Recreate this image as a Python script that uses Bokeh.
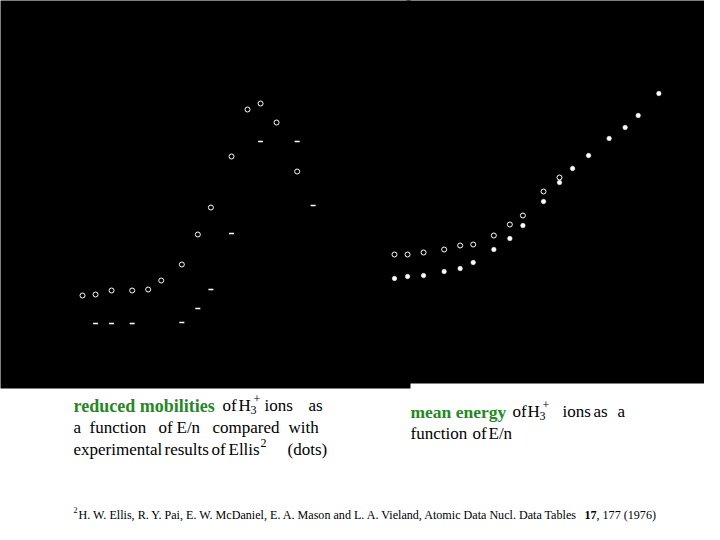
from bokeh.plotting import figure
from bokeh.models import Range1d, LogScale, LinearScale
from bokeh.core.properties import value
from bokeh.embed import file_html
from bokeh.resources import INLINE

# ---- data ----
# left panel: reduced mobility vs E/n (calculated = open circles, Ellis experiment = dashes)
en_mob_calc = [10, 12, 15, 20, 25, 30, 40, 50, 60, 80, 100, 120, 150, 200]
mob_calc = [5.5, 5.6, 6.0, 6.0, 6.1, 7.0, 8.6, 11.6, 14.3, 19.4, 24.1, 24.7, 22.8, 17.9]
en_mob_exp = [12, 15, 20, 40, 50, 60, 80, 120, 200, 250]
mob_exp = [2.7, 2.7, 2.7, 2.8, 4.2, 6.1, 11.7, 20.9, 20.9, 14.5]
# right panel: mean energy vs E/n (open circles and filled dots)
en_energy_open = [10, 12, 15, 20, 25, 30, 40, 50, 60, 80, 100]
energy_open = [23, 23, 24, 25.5, 27.5, 28, 32.5, 38, 42.5, 54.5, 61.5]
en_energy_dots = [10, 12, 15, 20, 25, 30, 40, 50, 60, 80, 100, 120, 150, 200, 250, 300, 400]
energy_dots = [11, 12, 12.5, 14.5, 16, 19, 25.5, 31, 37.5, 49.5, 59, 66, 72.5, 81, 86.5, 92.5, 103.5]

# ---- layout constants (picture pixels) ----
W, H = 704, 524
X0, Y0 = 0, 0
X1, Y1 = X0 + W, Y0 + H
DECADE = 165.0
L_X10, L_YZERO, L_YPX = 82.0, 350.0, 10.0   # left panel mapping
R_X10, R_YZERO, R_YPX = 394.0, 300.0, 2.0    # right panel mapping


def log_range(x10):
    return Range1d(10 * 10 ** ((X0 - x10) / DECADE), 10 * 10 ** ((X1 - x10) / DECADE))


def lin_range(yzero, ypx):
    return Range1d((yzero - Y1) / ypx, (yzero - Y0) / ypx)


p = figure(width=W, height=H, x_range=Range1d(X0, X1), y_range=Range1d(Y1, Y0),
           x_axis_type=None, y_axis_type=None, toolbar_location=None,
           output_backend="svg", min_border=0)
p.grid.visible = False
p.outline_line_color = None
p.background_fill_color = "white"
p.border_fill_color = "white"

p.extra_x_ranges = {"mobx": log_range(L_X10), "enx": log_range(R_X10)}
p.extra_x_scales = {"mobx": LogScale(), "enx": LogScale()}
p.extra_y_ranges = {"moby": lin_range(L_YZERO, L_YPX), "eny": lin_range(R_YZERO, R_YPX)}
p.extra_y_scales = {"moby": LinearScale(), "eny": LinearScale()}

# black slide areas
p.quad(left=[X0 - 2, 406], right=[410, X1 + 2], top=[Y0 - 2, Y0 - 2], bottom=[388, 383],
       fill_color="black", line_color=None)

# left panel markers
p.scatter(en_mob_calc, mob_calc, marker="circle", size=5, fill_color=None,
          line_color="white", line_width=1, x_range_name="mobx", y_range_name="moby")
p.scatter(en_mob_exp, mob_exp, marker="dash", size=5, line_color="white",
          line_width=1.5, x_range_name="mobx", y_range_name="moby")
# right panel markers
p.scatter(en_energy_open, energy_open, marker="circle", size=5, fill_color=None,
          line_color="white", line_width=1, x_range_name="enx", y_range_name="eny")
p.scatter(en_energy_dots, energy_dots, marker="circle", size=4.5, fill_color="white",
          line_color="white", line_width=0.5, x_range_name="enx", y_range_name="eny")

SERIF = value("Liberation Serif")
GREEN = "#218a21"


def txt(items, size, color="black", style="normal"):
    xs = [i[0] for i in items]
    ys = [i[1] for i in items]
    ts = [i[2] for i in items]
    p.text(x=xs, y=ys, text=ts, text_font=SERIF, text_font_size=size,
           text_color=color, text_font_style=style, text_baseline="alphabetic",
           text_align="left")


FS = "17px"
FB = "18px"
# left caption
txt([(73, 405, "reduced mobilities")], FB, GREEN, "bold")
txt([(222, 405, "of"), (238, 405, "H"), (264, 405, "ions"), (308, 405, "as"),
     (73, 427, "a"), (89, 427, "function"), (158, 427, "of"), (176, 427, "E/n"),
     (212, 427, "compared"), (288, 427, "with"),
     (73, 449, "experimental"), (164, 449, "results"), (211, 449, "of"),
     (228, 449, "Ellis"), (287, 449, "(dots)")], FS)
txt([(250, 409, "3"), (253, 398, "+"), (260, 442, "2")], "12px")

# right caption
txt([(410, 411, "mean energy")], "17.5px", GREEN, "bold")
txt([(512, 411, "of"), (527, 411, "H"), (562, 411, "ions"), (593, 411, "as"),
     (617, 411, "a"), (410, 433, "function"), (472, 433, "of"), (488, 433, "E/n")], FS)
txt([(539, 415, "3"), (542, 404, "+")], "12px")

# footnote
txt([(73, 509, "2")], "8px")
txt([(78, 514, "H. W. Ellis, R. Y. Pai, E. W. McDaniel, E. A. Mason and L. A. Vieland, "
               "Atomic Data Nucl. Data Tables")], "12.1px")
txt([(584, 514, "17")], "12.1px", "black", "bold")
txt([(596, 514, ", 177 (1976)")], "12.1px")

open("out.html", "w").write(file_html(p, INLINE))
